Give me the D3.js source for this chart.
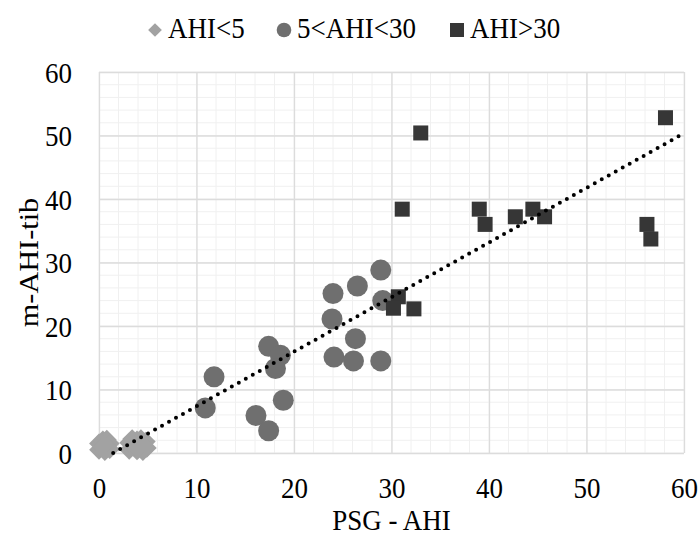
<!DOCTYPE html>
<html>
<head>
<meta charset="utf-8">
<script src="https://cdn.jsdelivr.net/npm/d3@7/dist/d3.min.js"></script>
<style>
  html, body { margin: 0; padding: 0; background: #fff; }
  svg { display: block; }
  svg text { font-family: "Liberation Serif", "Times New Roman", Tinos, "Nimbus Roman", "DejaVu Serif", serif; fill: #000; }
</style>
</head>
<body>
<svg id="chart" width="699" height="539"></svg>
<script>
// PSG-AHI (x) vs m-AHI-tib (y), grouped by severity
const lowX  = [0.0, 0.0, 0.4, 0.8, 1.1, 1.1, 0.6, 0.5, 3.1, 3.1, 3.4, 3.9, 4.3, 4.8, 4.9, 4.5, 3.9, 3.6, 4.3];
const lowY  = [0.5, 1.5, 2.0, 2.1, 1.5, 0.6, 0.3, 1.2, 0.5, 1.6, 2.2, 2.0, 2.2, 1.8, 0.8, 0.3, 0.4, 1.2, 1.2];

const midX  = [11.8, 10.9, 16.1, 17.4, 18.9, 17.4, 18.6, 18.1, 24.0, 26.5, 28.9, 23.9, 29.1, 26.3, 24.1, 26.1, 28.9];
const midY  = [12.0, 7.1, 5.9, 3.5, 8.3, 16.8, 15.4, 13.3, 25.1, 26.3, 28.8, 21.1, 24.0, 18.0, 15.1, 14.5, 14.5];

const highX = [33.0, 31.1, 39.0, 39.6, 42.7, 44.5, 45.7, 58.1, 56.2, 56.6, 30.7, 30.2, 32.3];
const highY = [50.4, 38.4, 38.4, 36.0, 37.2, 38.4, 37.2, 52.8, 36.0, 33.7, 24.6, 22.8, 22.7];

const seriesNames = ["AHI<5", "5<AHI<30", "AHI>30"];
const xTicks = [0, 10, 20, 30, 40, 50, 60];
const yTicks = [0, 10, 20, 30, 40, 50, 60];

// linear trendline (all points)
const trendSlope = 0.86;
const trendIntercept = -1.25;

const svg = d3.select("#chart");
const plot = { left: 99, right: 684, top: 72, bottom: 453 };

const x = d3.scaleLinear().domain([0, 60]).range([plot.left, plot.right]);
const y = d3.scaleLinear().domain([0, 60]).range([plot.bottom, plot.top]);

const colors = ["#a2a2a2", "#6f6f6f", "#363636"];
const FONT = "Liberation Serif";
const FS = 27;
const STRETCH = 1.12; // glyphs are drawn slightly taller than wide

// minor grid every 2 units
const minor = d3.range(0, 61, 2);
const grid = svg.append("g");
grid.selectAll(".vminor").data(minor).enter().append("line")
  .attr("x1", d => x(d)).attr("x2", d => x(d))
  .attr("y1", plot.top).attr("y2", plot.bottom)
  .attr("stroke", "#f0f0f0").attr("stroke-width", 1);
grid.selectAll(".hminor").data(minor).enter().append("line")
  .attr("y1", d => y(d)).attr("y2", d => y(d))
  .attr("x1", plot.left).attr("x2", plot.right)
  .attr("stroke", "#f0f0f0").attr("stroke-width", 1);

// major grid
const xAxisGrid = d3.axisBottom(x).tickValues(xTicks).tickSize(-(plot.bottom - plot.top)).tickFormat("");
const yAxisGrid = d3.axisLeft(y).tickValues(yTicks).tickSize(-(plot.right - plot.left)).tickFormat("");
grid.append("g").attr("transform", `translate(0,${plot.bottom})`).call(xAxisGrid)
  .call(g => g.select(".domain").remove())
  .call(g => g.selectAll("line").attr("stroke", "#dcdcdc").attr("stroke-width", 1.3));
grid.append("g").attr("transform", `translate(${plot.left},0)`).call(yAxisGrid)
  .call(g => g.select(".domain").remove())
  .call(g => g.selectAll("line").attr("stroke", "#dcdcdc").attr("stroke-width", 1.3));

// tick labels
const xAxis = d3.axisBottom(x).tickValues(xTicks).tickSize(0).tickPadding(0);
svg.append("g").attr("transform", `translate(0,${plot.bottom})`).call(xAxis)
  .attr("font-family", FONT)
  .call(g => g.select(".domain").remove())
  .call(g => g.selectAll("text").attr("font-size", FS).attr("fill", "#000")
    .attr("dy", null).attr("y", 0)
    .attr("transform", `translate(0,44.5) scale(1,${STRETCH})`));

const yAxis = d3.axisLeft(y).tickValues(yTicks).tickSize(0).tickPadding(0);
svg.append("g").attr("transform", `translate(${plot.left},0)`).call(yAxis)
  .attr("font-family", FONT)
  .call(g => g.select(".domain").remove())
  .call(g => g.selectAll("text").attr("font-size", FS).attr("fill", "#000")
    .attr("x", 0).attr("dy", "0.34em")
    .attr("transform", `translate(-27,0) scale(1,${STRETCH})`));

// markers
const lowData = lowX.map((v, i) => [v, lowY[i]]);
const midData = midX.map((v, i) => [v, midY[i]]);
const highData = highX.map((v, i) => [v, highY[i]]);

const diamond = d3.symbol().type(d3.symbolDiamond2).size(250);
svg.append("g").selectAll("path").data(lowData).enter().append("path")
  .attr("d", diamond)
  .attr("transform", d => `translate(${x(d[0])},${y(d[1])})`)
  .attr("fill", colors[0]);

svg.append("g").selectAll("circle").data(midData).enter().append("circle")
  .attr("cx", d => x(d[0])).attr("cy", d => y(d[1])).attr("r", 10.5)
  .attr("fill", colors[1]);

const sq = 15;
svg.append("g").selectAll("rect").data(highData).enter().append("rect")
  .attr("x", d => x(d[0]) - sq / 2).attr("y", d => y(d[1]) - sq / 2)
  .attr("width", sq).attr("height", sq)
  .attr("fill", colors[2]);

// dotted trendline, clipped to the plot area
const x0 = -trendIntercept / trendSlope;
const x1 = Math.min(60, (60 - trendIntercept) / trendSlope);
svg.append("line")
  .attr("x1", x(x0)).attr("y1", y(trendSlope * x0 + trendIntercept))
  .attr("x2", x(x1)).attr("y2", y(trendSlope * x1 + trendIntercept))
  .attr("stroke", "#000").attr("stroke-width", 4)
  .attr("stroke-linecap", "round").attr("stroke-dasharray", "0 8");

// axis titles
svg.append("text")
  .attr("font-family", FONT).attr("font-size", FS).attr("text-anchor", "middle")
  .attr("transform", `translate(${(plot.left + plot.right) / 2},530) scale(1,${STRETCH})`)
  .text("PSG - AHI");
svg.append("text")
  .attr("font-family", FONT).attr("font-size", FS).attr("text-anchor", "middle")
  .attr("transform", `translate(38,${(plot.top + plot.bottom) / 2}) scale(1,${STRETCH}) rotate(-90)`)
  .text("m-AHI-tib");

// legend
const legend = svg.append("g").attr("font-family", FONT);
const legendItems = [
  { name: seriesNames[0], mx: 155, tx: 168 },
  { name: seriesNames[1], mx: 284, tx: 297 },
  { name: seriesNames[2], mx: 457, tx: 470 }
];
legendItems.forEach((it, i) => {
  if (i === 0) {
    legend.append("path").attr("d", d3.symbol().type(d3.symbolDiamond2).size(120))
      .attr("transform", `translate(${it.mx},30)`).attr("fill", colors[0]);
  } else if (i === 1) {
    legend.append("circle").attr("cx", it.mx).attr("cy", 30).attr("r", 7.3).attr("fill", colors[1]);
  } else {
    legend.append("rect").attr("x", it.mx - 7).attr("y", 23).attr("width", 14).attr("height", 14).attr("fill", colors[2]);
  }
  legend.append("text").attr("font-size", FS)
    .attr("transform", `translate(${it.tx},38) scale(1,${STRETCH})`)
    .text(it.name);
});
</script>
</body>
</html>
